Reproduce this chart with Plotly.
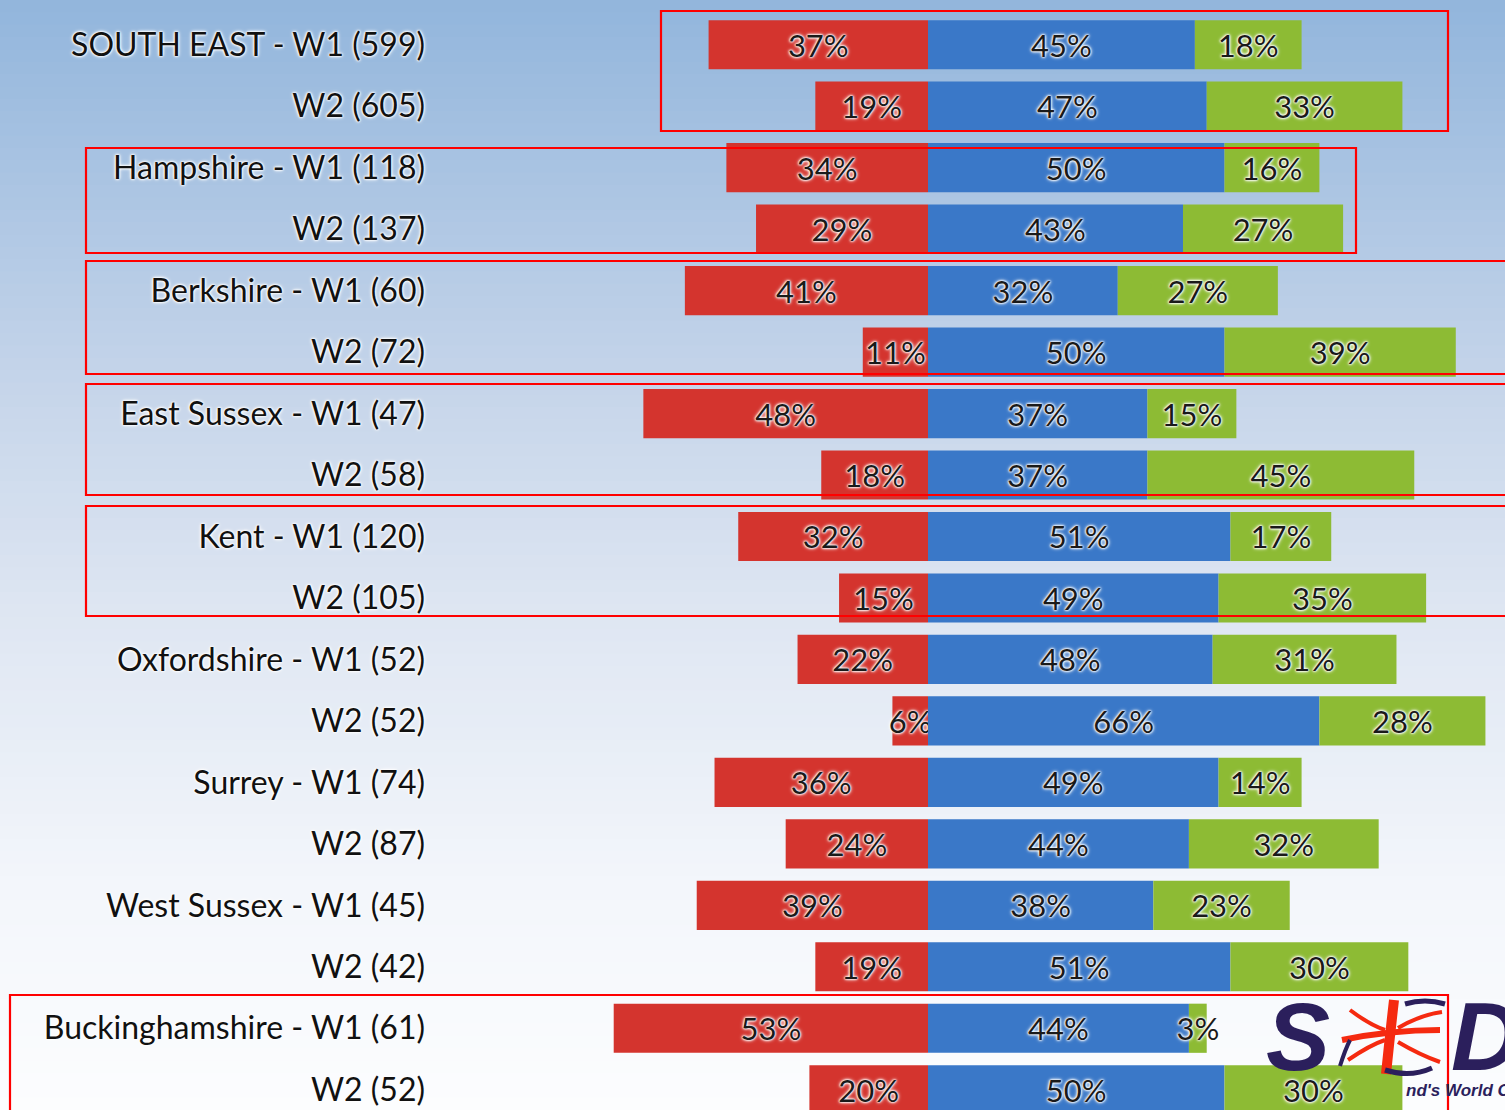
import plotly.graph_objects as go

# ---------------- data ----------------
labels = [
    "SOUTH EAST - W1 (599)", "W2 (605)",
    "Hampshire - W1 (118)", "W2 (137)",
    "Berkshire - W1 (60)", "W2 (72)",
    "East Sussex - W1 (47)", "W2 (58)",
    "Kent - W1 (120)", "W2 (105)",
    "Oxfordshire - W1 (52)", "W2 (52)",
    "Surrey - W1 (74)", "W2 (87)",
    "West Sussex - W1 (45)", "W2 (42)",
    "Buckinghamshire - W1 (61)", "W2 (52)",
]
red_vals = [37, 19, 34, 29, 41, 11, 48, 18, 32, 15, 22, 6, 36, 24, 39, 19, 53, 20]
blue_vals = [45, 47, 50, 43, 32, 50, 37, 37, 51, 49, 48, 66, 49, 44, 38, 51, 44, 50]
green_vals = [18, 33, 16, 27, 27, 39, 15, 45, 17, 35, 31, 28, 14, 32, 23, 30, 3, 30]

# ---------------- layout geometry ----------------
W, H = 1505, 1110
L, R, T, B = 440, 1505, 14, 1110
CENTER = 928
PX_PER = 5.93
ROW = 61.47

def px_x(px):
    return (px - L) / (R - L)

def px_y(py):
    return (B - py) / (B - T)

ypos = list(range(len(labels)))

RED = "#d4342e"
BLUE = "#3a78c8"
GREEN = "#8dbb34"
NAVY = "#2b1f5c"
FLAG = "#f52a10"

GLOW = "0px 0px 2px white, 0px 0px 2px white, 0px 0px 3px white, 0px 0px 4px white"
label_font = dict(family="Lato, Roboto, sans-serif", size=31, color="#1a1a1a", shadow=GLOW)

fig = go.Figure()
common = dict(orientation="h", width=0.8, textposition="inside", insidetextanchor="middle",
              textangle=0, constraintext="none", textfont=label_font, hoverinfo="skip",
              marker_line_width=0)
fig.add_trace(go.Bar(y=ypos, x=[-v for v in red_vals], text=[f"{v}%" for v in red_vals],
                     marker_color=RED, name="neg", **common))
fig.add_trace(go.Bar(y=ypos, x=blue_vals, text=[f"{v}%" for v in blue_vals],
                     marker_color=BLUE, name="mid", **common))
fig.add_trace(go.Bar(y=ypos, x=green_vals, text=[f"{v}%" for v in green_vals],
                     marker_color=GREEN, name="pos", **common))

xmin = -(CENTER - L) / PX_PER
xmax = (R - CENTER) / PX_PER
ybot = -0.5 + (B - T) / ROW

shapes = []
# background gradient
stops = [(0.0, (146, 181, 220)), (0.35, (198, 213, 234)), (0.55, (222, 230, 242)),
         (0.8, (243, 246, 251)), (1.0, (252, 253, 254))]

def col_at(t):
    for (t0, c0), (t1, c1) in zip(stops[:-1], stops[1:]):
        if t0 <= t <= t1:
            f = (t - t0) / (t1 - t0)
            return "rgb(%d,%d,%d)" % tuple(round(a + (b - a) * f) for a, b in zip(c0, c1))
    return "rgb(252,253,254)"

N = 90
for i in range(N):
    y0 = H * i / N
    y1 = H * (i + 1) / N + 1
    shapes.append(dict(type="rect", xref="paper", yref="paper", layer="below",
                       x0=px_x(-5), x1=px_x(W + 5), y0=px_y(y1), y1=px_y(y0),
                       fillcolor=col_at((i + 0.5) / N), line_width=0))

# logo flag element (stylised red cross with navy waves)
def path_shape(d, color, width):
    return dict(type="path", xref="x", yref="y", layer="above", path=d,
                line=dict(color=color, width=width), fillcolor="rgba(0,0,0,0)")

def to_data(px, py):
    return (px - CENTER) / PX_PER, -0.5 + (py - T) / ROW

def curve(pts):
    (x0, y0) = to_data(*pts[0])
    (cx, cy) = to_data(*pts[1])
    (x1, y1) = to_data(*pts[2])
    return f"M {x0},{y0} Q {cx},{cy} {x1},{y1}"

flag_curves = [
    ([(1394, 1000), (1390, 1035), (1386, 1074)], FLAG, 10),
    ([(1342, 1040), (1390, 1030), (1440, 1030)], FLAG, 6),
    ([(1350, 1010), (1370, 1025), (1385, 1030)], FLAG, 4),
    ([(1348, 1060), (1370, 1045), (1385, 1040)], FLAG, 4),
    ([(1398, 1028), (1420, 1015), (1442, 1012)], FLAG, 4),
    ([(1398, 1042), (1420, 1055), (1440, 1062)], FLAG, 4),
    ([(1405, 1004), (1425, 998), (1445, 1004)], NAVY, 5),
    ([(1385, 1070), (1410, 1078), (1432, 1068)], NAVY, 5),
    ([(1340, 1066), (1345, 1050), (1350, 1040)], NAVY, 4),
]
for pts, c, w in flag_curves:
    shapes.append(path_shape(curve(pts), c, w))

# red group boxes (pixel coords)
boxes = [(661, 11, 1448, 131), (86, 148, 1356, 253), (86, 261, 1510, 374),
         (86, 384, 1510, 495), (86, 506, 1510, 616), (10, 995, 1448, 1115)]
for x0, y0, x1, y1 in boxes:
    shapes.append(dict(type="rect", xref="paper", yref="paper", layer="above",
                       x0=px_x(x0), x1=px_x(x1), y0=px_y(y1), y1=px_y(y0),
                       line=dict(color="#ff0000", width=2.2), fillcolor="rgba(0,0,0,0)"))

def ann(text, x, y, size, color, xanchor="center", height=None):
    a = dict(text=text, x=px_x(x), y=px_y(y), xref="paper", yref="paper",
             xanchor=xanchor, yanchor="middle", showarrow=False,
             font=dict(family="Liberation Sans, sans-serif", size=size, color=color))
    if height:
        a["height"] = height
    return a

annotations = [
    ann("<b><i>S</i></b>", 1298, 1036, 96, NAVY, height=70),
    ann("<b><i>D</i></b>", 1485, 1036, 96, NAVY, height=70),
    ann("<b><i>nd's World Class</i></b>", 1404, 1090, 17, NAVY, xanchor="left"),
]

fig.update_layout(
    width=W, height=H,
    margin=dict(l=L, r=W - R, t=T, b=H - B, pad=0),
    barmode="relative",
    showlegend=False,
    paper_bgcolor="white",
    plot_bgcolor="rgba(0,0,0,0)",
    shapes=shapes,
    annotations=annotations,
    xaxis=dict(range=[xmin, xmax], visible=False, fixedrange=True),
    yaxis=dict(range=[ybot, -0.5], tickmode="array", tickvals=ypos, ticktext=labels,
               showgrid=False, zeroline=False, showline=False, ticks="",
               ticklabelstandoff=14, fixedrange=True,
               tickfont=dict(family="Lato, Roboto, sans-serif", size=32,
                             color="#111111", shadow=GLOW)),
)

fig.write_html("out.html", config={"displayModeBar": False},
               post_script="document.body.style.margin='0';")
